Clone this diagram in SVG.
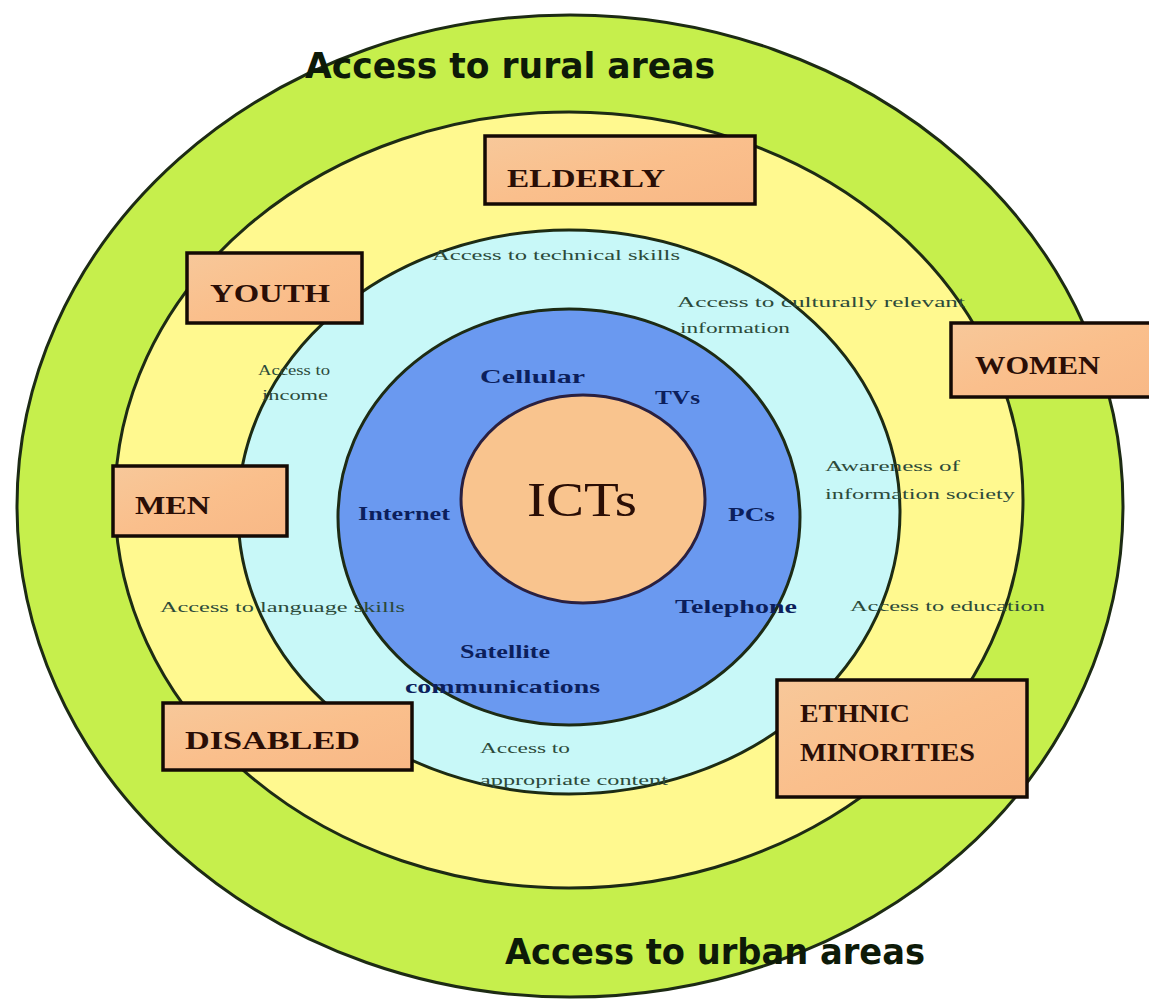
<svg xmlns="http://www.w3.org/2000/svg" width="1149" height="1001" viewBox="0 0 1149 1001">
  <style>
    .ring { stroke: #1d2b14; stroke-width: 3; }
    .box { stroke: #140a04; stroke-width: 3.5; }
    .boxlabel { font-family: "Liberation Serif", "DejaVu Serif", serif; font-weight: bold; font-size: 25px; fill: #2a0e06; }
    .tech { font-family: "Liberation Serif", "DejaVu Serif", serif; font-weight: bold; font-size: 19px; fill: #0c1f5c; }
    .access { font-family: "Liberation Serif", "DejaVu Serif", serif; font-size: 15px; fill: #2c4a3a; }
    .band { font-family: "DejaVu Sans Condensed", "Liberation Sans", sans-serif; font-weight: bold; font-size: 36px; fill: #0d1a08; }
  </style>
  <defs>
    <linearGradient id="boxFill" x1="0" y1="0" x2="1" y2="1">
      <stop offset="0" stop-color="#f7c89a"/>
      <stop offset="0.5" stop-color="#fabf8c"/>
      <stop offset="1" stop-color="#f8b886"/>
    </linearGradient>
  </defs>
  <rect width="1149" height="1001" fill="#ffffff"/>

  <!-- concentric rings, outermost first -->
  <g id="ring-rural-urban">
    <ellipse class="ring" cx="570" cy="506" rx="553" ry="491" fill="#c6ef4c"/>
  </g>
  <g id="ring-groups">
    <ellipse class="ring" cx="569" cy="500" rx="454" ry="388" fill="#fff98f"/>
  </g>
  <g id="ring-access">
    <ellipse class="ring" cx="569" cy="512" rx="331" ry="282" fill="#c8f8f8"/>
  </g>
  <g id="ring-technologies">
    <ellipse class="ring" cx="569" cy="517" rx="231" ry="208" fill="#6a99f0"/>
  </g>
  <g id="core-icts">
    <ellipse cx="583" cy="499" rx="122" ry="104" fill="#f9c48e" stroke="#2a2040" stroke-width="3"/>
    <text x="582" y="516" text-anchor="middle" font-family="Liberation Serif, DejaVu Serif, serif" font-size="48" fill="#2a0e06" textLength="110" lengthAdjust="spacingAndGlyphs">ICTs</text>
  </g>

  <!-- labels of the rings, drawn above every ring -->
  <g id="labels-rural-urban">
    <text class="band" x="510" y="78" text-anchor="middle" textLength="410" lengthAdjust="spacingAndGlyphs">Access to rural areas</text>
    <text class="band" x="715" y="964" text-anchor="middle" textLength="420" lengthAdjust="spacingAndGlyphs">Access to urban areas</text>
  </g>
  <g id="labels-access">
    <text class="access" x="556" y="260" text-anchor="middle" textLength="248" lengthAdjust="spacingAndGlyphs">Access to technical skills</text>
    <text class="access" x="677" y="307" textLength="288" lengthAdjust="spacingAndGlyphs">Access to culturally relevant</text>
    <text class="access" x="680" y="333" textLength="110" lengthAdjust="spacingAndGlyphs">information</text>
    <text class="access" x="258" y="375" textLength="72" lengthAdjust="spacingAndGlyphs">Access to</text>
    <text class="access" x="262" y="400" textLength="66" lengthAdjust="spacingAndGlyphs">income</text>
    <text class="access" x="825" y="471" textLength="135" lengthAdjust="spacingAndGlyphs">Awareness of</text>
    <text class="access" x="825" y="499" textLength="190" lengthAdjust="spacingAndGlyphs">information society</text>
    <text class="access" x="160" y="612" textLength="245" lengthAdjust="spacingAndGlyphs">Access to language skills</text>
    <text class="access" x="850" y="611" textLength="195" lengthAdjust="spacingAndGlyphs">Access to education</text>
    <text class="access" x="480" y="753" textLength="90" lengthAdjust="spacingAndGlyphs">Access to</text>
    <text class="access" x="480" y="785" textLength="188" lengthAdjust="spacingAndGlyphs">appropriate content</text>
  </g>
  <g id="labels-technologies">
    <text class="tech" x="480" y="383" font-size="23" textLength="105" lengthAdjust="spacingAndGlyphs">Cellular</text>
    <text class="tech" x="655" y="404" textLength="45" lengthAdjust="spacingAndGlyphs">TVs</text>
    <text class="tech" x="358" y="520" textLength="92" lengthAdjust="spacingAndGlyphs">Internet</text>
    <text class="tech" x="728" y="521" textLength="47" lengthAdjust="spacingAndGlyphs">PCs</text>
    <text class="tech" x="675" y="613" textLength="122" lengthAdjust="spacingAndGlyphs">Telephone</text>
    <text class="tech" x="460" y="658" textLength="90" lengthAdjust="spacingAndGlyphs">Satellite</text>
    <text class="tech" x="405" y="693" textLength="195" lengthAdjust="spacingAndGlyphs">communications</text>
  </g>

  <!-- social group labels -->
  <g id="group-elderly">
    <rect class="box" x="485" y="136" width="270" height="68" fill="url(#boxFill)"/>
    <text class="boxlabel" x="507" y="187" textLength="158" lengthAdjust="spacingAndGlyphs">ELDERLY</text>
  </g>
  <g id="group-youth">
    <rect class="box" x="187" y="253" width="175" height="70" fill="url(#boxFill)"/>
    <text class="boxlabel" x="210" y="302" textLength="120" lengthAdjust="spacingAndGlyphs">YOUTH</text>
  </g>
  <g id="group-women">
    <rect class="box" x="951" y="323" width="205" height="74" fill="url(#boxFill)"/>
    <text class="boxlabel" x="975" y="374" textLength="125" lengthAdjust="spacingAndGlyphs">WOMEN</text>
  </g>
  <g id="group-men">
    <rect class="box" x="113" y="466" width="174" height="70" fill="url(#boxFill)"/>
    <text class="boxlabel" x="135" y="514" textLength="75" lengthAdjust="spacingAndGlyphs">MEN</text>
  </g>
  <g id="group-disabled">
    <rect class="box" x="163" y="703" width="249" height="67" fill="url(#boxFill)"/>
    <text class="boxlabel" x="185" y="749" textLength="175" lengthAdjust="spacingAndGlyphs">DISABLED</text>
  </g>
  <g id="group-ethnic-minorities">
    <rect class="box" x="777" y="680" width="250" height="117" fill="url(#boxFill)"/>
    <text class="boxlabel" x="800" y="722" textLength="110" lengthAdjust="spacingAndGlyphs">ETHNIC</text>
    <text class="boxlabel" x="800" y="761" textLength="175" lengthAdjust="spacingAndGlyphs">MINORITIES</text>
  </g>
</svg>
